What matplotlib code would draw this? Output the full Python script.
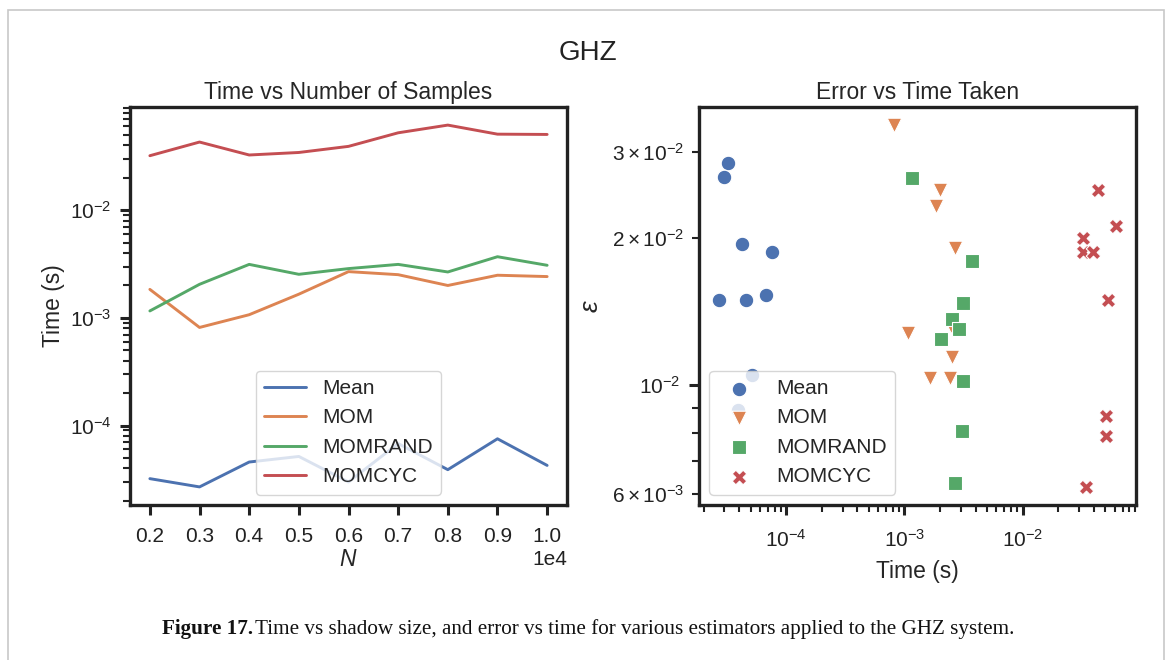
import numpy as np
import matplotlib
matplotlib.use("Agg")
import matplotlib.pyplot as plt
import seaborn as sns
from matplotlib.patches import Rectangle

# shadow sizes and timings
n_samples = [2000, 3000, 4000, 5000, 6000, 7000, 8000, 9000, 10000]
estimators = ["Mean", "MOM", "MOMRAND", "MOMCYC"]
markers = ["o", "v", "s", "X"]

time_mean = [3.21e-5, 2.69e-5, 4.58e-5, 5.16e-5, 2.99e-5, 6.8e-5, 3.89e-5, 7.53e-5, 4.26e-5]
time_mom = [1.84e-3, 8.15e-4, 1.07e-3, 1.66e-3, 2.69e-3, 2.52e-3, 2.00e-3, 2.49e-3, 2.42e-3]
time_momrand = [1.16e-3, 2.05e-3, 3.14e-3, 2.54e-3, 2.87e-3, 3.14e-3, 2.67e-3, 3.70e-3, 3.08e-3]
time_momcyc = [0.0321, 0.0430, 0.0326, 0.0344, 0.0392, 0.0524, 0.0618, 0.0509, 0.0506]

err_mean = [2.85e-2, 1.49e-2, 1.49e-2, 1.05e-2, 2.66e-2, 1.53e-2, 8.9e-3, 1.87e-2, 1.94e-2]
err_mom = [2.32e-2, 3.40e-2, 1.28e-2, 1.035e-2, 1.91e-2, 1.14e-2, 2.50e-2, 1.32e-2, 1.035e-2]
err_momrand = [2.65e-2, 1.244e-2, 1.472e-2, 1.365e-2, 1.30e-2, 1.02e-2, 6.32e-3, 1.794e-2, 8.06e-3]
err_momcyc = [2.0e-2, 2.50e-2, 1.87e-2, 6.2e-3, 1.87e-2, 1.494e-2, 2.12e-2, 8.67e-3, 7.88e-3]

times = [time_mean, time_mom, time_momrand, time_momcyc]
errors = [err_mean, err_mom, err_momrand, err_momcyc]

sns.set_theme(style="ticks", palette="deep")
plt.rcParams["font.family"] = ["Liberation Sans", "DejaVu Sans"]
plt.rcParams["mathtext.fontset"] = "custom"
plt.rcParams["mathtext.rm"] = "Liberation Sans"
plt.rcParams["mathtext.it"] = "Liberation Sans:italic"
plt.rcParams["axes.linewidth"] = 2.4
plt.rcParams["axes.edgecolor"] = "#222222"
plt.rcParams["axes.labelsize"] = 16.5
plt.rcParams["axes.titlesize"] = 16.5
plt.rcParams["legend.fontsize"] = 15
colors = sns.color_palette("deep")

fig = plt.figure(figsize=(11.71, 6.60), dpi=100)
fig.patch.set_facecolor("white")

W, H = 1171, 660
ax1 = fig.add_axes([130 / W, (H - 505) / H, 437 / W, 398 / H])
ax2 = fig.add_axes([699 / W, (H - 505) / H, 437 / W, 398 / H])

#Temps en fonction du nombre d'echantillons
for i, name in enumerate(estimators):
    ax1.plot(n_samples, times[i], color=colors[i], lw=2.1, label=name)
ax1.set_yscale("log")
ax1.set_title("Time vs Number of Samples")
ax1.set_xlabel("$N$", labelpad=2)
ax1.set_ylabel("Time (s)", labelpad=3)
ax1.set_xticks(n_samples)
ax1.ticklabel_format(axis="x", style="sci", scilimits=(0, 0))
ax1.legend(loc="lower center", framealpha=0.8)

#Erreur en fonction du temps
for i, name in enumerate(estimators):
    ax2.scatter(times[i], errors[i], color=colors[i], marker=markers[i], s=110,
                edgecolor="white", linewidth=0.8, label=name)
ax2.set_xscale("log")
ax2.set_yscale("log")
ax2.set_title("Error vs Time Taken")
ax2.set_xlabel("Time (s)", labelpad=6)
ax2.set_ylabel(r"$\varepsilon$", fontsize=19, labelpad=6)
ax2.legend(loc="lower left", framealpha=0.8)

for ax in [ax1, ax2]:
    ax.tick_params(which="major", length=7.5, width=2.2, pad=6, labelsize=15, color="#222222",
                   labelcolor="#222222")
    ax.tick_params(which="minor", length=4.8, width=1.5, pad=6, labelsize=15, color="#222222",
                   labelcolor="#222222")
    ax.tick_params(axis="x", which="both", pad=8)
    ax.xaxis.get_offset_text().set_fontsize(15)
ax2.tick_params(axis="x", which="both", pad=10)

fig.text(588 / W, 1 - 53 / H, "GHZ", ha="center", va="center", fontsize=20, color="#222222")

# cadre de la page et legende de la figure
fig.add_artist(Rectangle((8 / W, -0.1), 1156 / W, 1.1 - 10 / H, transform=fig.transFigure,
                         fill=False, edgecolor="#c8c8c8", lw=1.2))
fig.text(162 / W, 1 - 629 / H, r"Figure 17.", ha="left", va="center", fontsize=15.2,
         family="Liberation Serif", weight="bold", color="#111111")
fig.text(255 / W, 1 - 629 / H,
         "Time vs shadow size, and error vs time for various estimators applied to the GHZ system.",
         ha="left", va="center", fontsize=15.2, family="Liberation Serif", color="#111111")

fig.savefig("out.png", dpi=100)
